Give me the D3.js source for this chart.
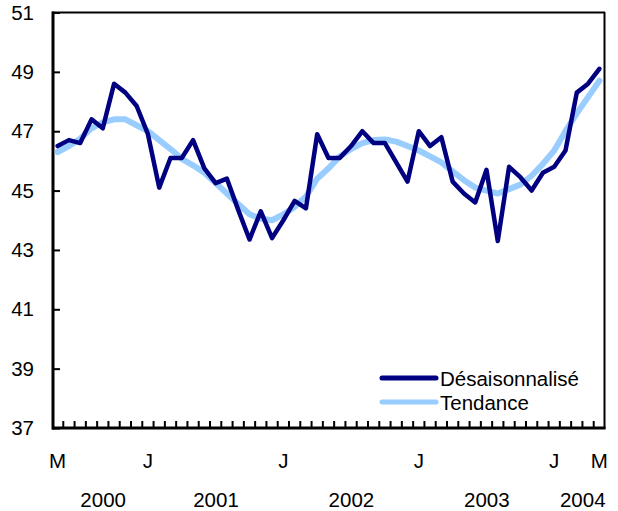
<!DOCTYPE html>
<html>
<head>
<meta charset="utf-8">
<script src="https://cdn.jsdelivr.net/npm/d3@7"></script>
<style>
  body { margin: 0; background: #fff; }
  text { font-family: "Liberation Sans", Arial, sans-serif; fill: #000; }
</style>
</head>
<body>
<div id="chart"></div>
<script>
  // monthly series, May 2000 to May 2004
  var months = d3.timeMonth.range(new Date(2000, 4, 1), new Date(2004, 5, 1));

  var desaisonnalise = [
    46.5, 46.7, 46.6, 47.4, 47.1, 48.6, 48.3, 47.85, 46.9, 45.1, 46.1, 46.1,
    46.7, 45.75, 45.25, 45.4, 44.35, 43.35, 44.3, 43.4, 44.0, 44.65, 44.4, 46.9,
    46.1, 46.1, 46.5, 47.0, 46.6, 46.6, 45.95, 45.3, 47.0, 46.5, 46.8, 45.3,
    44.9, 44.6, 45.7, 43.3, 45.8, 45.45, 45.0, 45.6, 45.8, 46.35, 48.3, 48.6, 49.1
  ];
  var tendance = [
    46.3, 46.5, 46.75, 47.1, 47.3, 47.4, 47.4, 47.2, 47.0, 46.7, 46.4, 46.07,
    45.85, 45.6, 45.25, 44.9, 44.55, 44.2, 44.05, 44.0, 44.2, 44.45, 44.8, 45.4,
    45.75, 46.15, 46.4, 46.6, 46.7, 46.72, 46.65, 46.5, 46.35, 46.15, 45.95, 45.65,
    45.35, 45.1, 45.0, 44.9, 45.05, 45.2, 45.5, 45.9, 46.35, 47.0, 47.6, 48.15, 48.7
  ];
  var yTicks = [37, 39, 41, 43, 45, 47, 49, 51];
  var monthLetters = ["J", "F", "M", "A", "M", "J", "J", "A", "S", "O", "N", "D"];
  var years = [2000, 2001, 2002, 2003, 2004];

  var width = 618, height = 511;
  var fs = 20.5;
  var svg = d3.select("#chart").append("svg")
    .attr("width", width)
    .attr("height", height);

  var x = d3.scaleBand().domain(months).range([52, 605]);
  var y = d3.scaleLinear().domain([37, 51]).range([428, 12.5]);
  var cx = function(d){ return x(d) + x.bandwidth() / 2; };

  // y axis, ticks pointing inward
  svg.append("g")
    .attr("transform", "translate(53,0)")
    .call(d3.axisLeft(y).tickValues(yTicks).tickSize(-7).tickPadding(19).tickFormat(d3.format("d")))
    .call(function(g){
      g.select(".domain").remove();
      g.selectAll("line").attr("stroke", "#000").attr("stroke-width", 2);
      g.selectAll("text").attr("font-size", fs).attr("font-family", null);
    });

  // month ticks on the bottom axis, between slots
  svg.append("g").selectAll("line")
    .data(months.slice(1))
    .join("line")
    .attr("x1", function(d){ return x(d); })
    .attr("x2", function(d){ return x(d); })
    .attr("y1", 428).attr("y2", 421)
    .attr("stroke", "#000").attr("stroke-width", 2);

  // frame
  svg.append("line").attr("x1", 52).attr("x2", 605).attr("y1", 12.5).attr("y2", 12.5)
    .attr("stroke", "#000").attr("stroke-width", 2);
  svg.append("line").attr("x1", 604.5).attr("x2", 604.5).attr("y1", 12).attr("y2", 429)
    .attr("stroke", "#000").attr("stroke-width", 2);
  svg.append("line").attr("x1", 53).attr("x2", 53).attr("y1", 11.5).attr("y2", 429.5)
    .attr("stroke", "#000").attr("stroke-width", 3);
  svg.append("line").attr("x1", 52).attr("x2", 605.5).attr("y1", 428).attr("y2", 428)
    .attr("stroke", "#000").attr("stroke-width", 3);

  // month letters: first, every January, last
  var labelled = months.filter(function(d, i){
    return i === 0 || i === months.length - 1 || d.getMonth() === 0;
  });
  svg.append("g").selectAll("text")
    .data(labelled)
    .join("text")
    .attr("x", cx)
    .attr("y", 468)
    .attr("text-anchor", "middle")
    .attr("font-size", fs)
    .text(function(d){ return monthLetters[d.getMonth()]; });

  // year labels, centred under their months
  svg.append("g").selectAll("text")
    .data(years)
    .join("text")
    .attr("x", function(yr){
      var ms = months.filter(function(d){ return d.getFullYear() === yr; });
      return (cx(ms[0]) + cx(ms[ms.length - 1])) / 2 + 6;
    })
    .attr("y", 507)
    .attr("text-anchor", "middle")
    .attr("font-size", fs)
    .text(function(d){ return d; });

  var line = function(values){
    return d3.line()
      .x(function(d, i){ return cx(months[i]); })
      .y(function(d){ return y(d); })(values);
  };

  svg.append("path")
    .attr("d", line(tendance))
    .attr("fill", "none")
    .attr("stroke", "#99ccff")
    .attr("stroke-width", 6)
    .attr("stroke-linejoin", "round")
    .attr("stroke-linecap", "round");

  svg.append("path")
    .attr("d", line(desaisonnalise))
    .attr("fill", "none")
    .attr("stroke", "#000080")
    .attr("stroke-width", 4.5)
    .attr("stroke-linejoin", "round")
    .attr("stroke-linecap", "round");

  // legend
  var legend = svg.append("g").attr("transform", "translate(382,378)");
  var items = [
    { label: "Désaisonnalisé", color: "#000080" },
    { label: "Tendance", color: "#99ccff" }
  ];
  var row = legend.selectAll("g").data(items).join("g")
    .attr("transform", function(d, i){ return "translate(0," + (i * 24) + ")"; });
  row.append("line")
    .attr("x1", 0).attr("x2", 54)
    .attr("stroke", function(d){ return d.color; })
    .attr("stroke-width", 5)
    .attr("stroke-linecap", "round");
  row.append("text")
    .attr("x", 58)
    .attr("y", 8)
    .attr("font-size", fs)
    .text(function(d){ return d.label; });
</script>
</body>
</html>
